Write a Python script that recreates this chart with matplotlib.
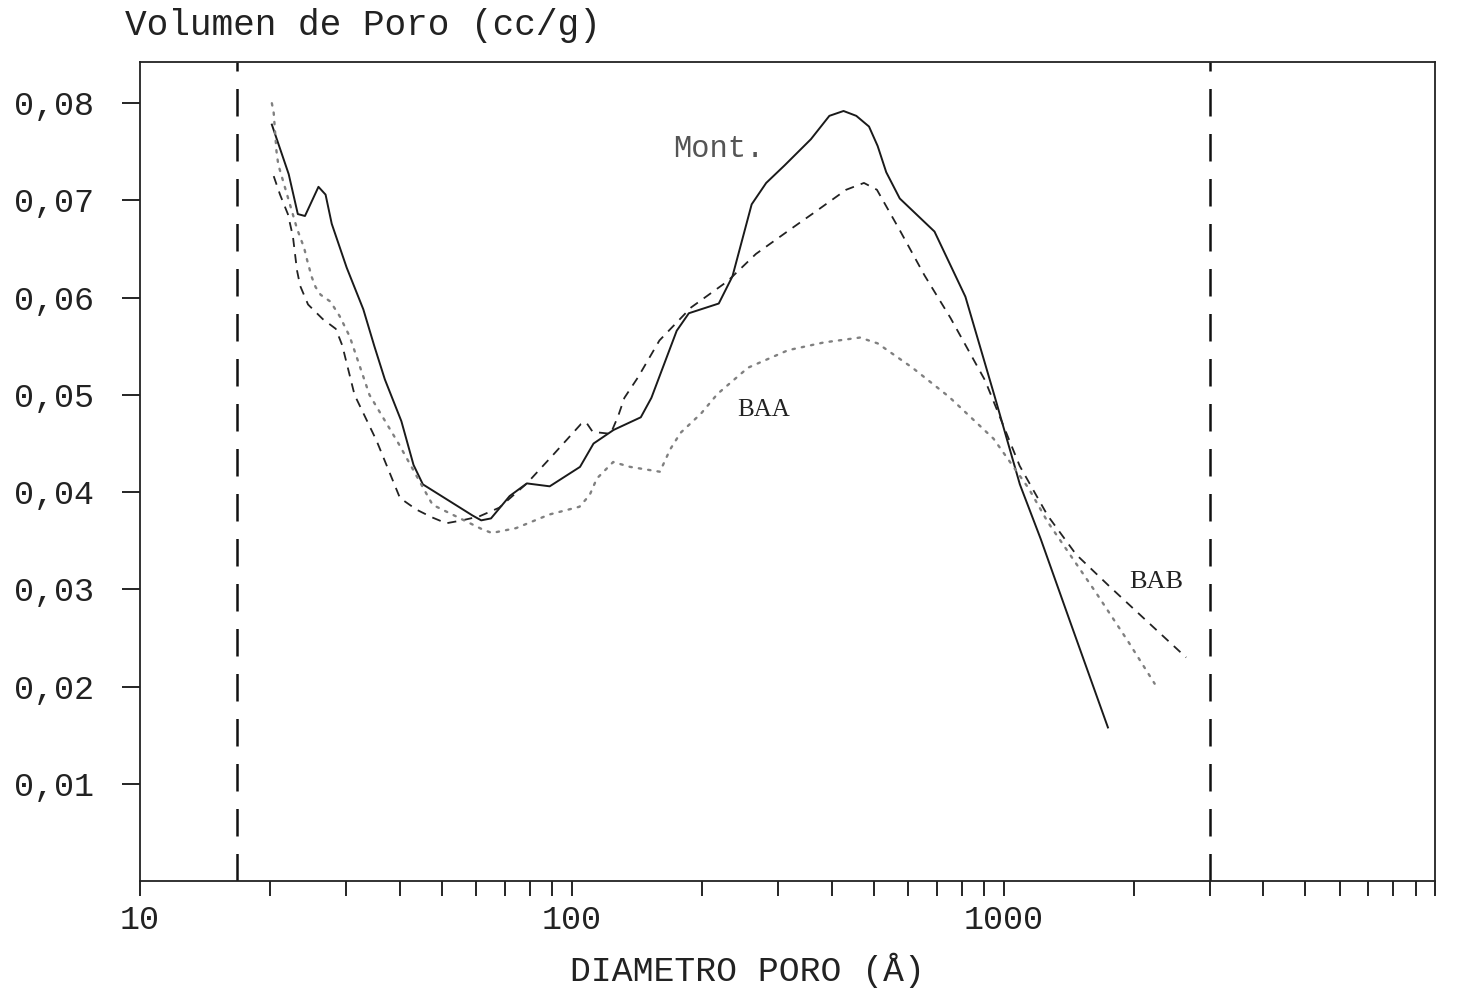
import numpy as np
import matplotlib
matplotlib.use("Agg")
import matplotlib.pyplot as plt
from matplotlib.ticker import FixedLocator, NullFormatter

# Pore diameter (A) and pore volume (cc/g)
mont_d = [20.2, 22.1, 23.2, 24.1, 25.9, 26.9, 27.8, 30.1, 32.9, 34.9, 36.9,
          40.3, 43.0, 45.2, 58.9, 61.7, 65.0, 71.8, 78.7, 88.9, 104.5, 112.3,
          125, 144.5, 152.9, 175, 186.7, 219, 235.6, 261, 282, 311, 358, 395,
          426, 456, 488, 511, 535, 575, 692, 816, 953, 1091, 1219, 1431, 1745]
mont_v = [0.0778, 0.0727, 0.0686, 0.0684, 0.0714, 0.0706, 0.0676, 0.0631,
          0.0588, 0.0550, 0.0516, 0.0473, 0.0428, 0.0408, 0.0376, 0.0371,
          0.0373, 0.0396, 0.0409, 0.0406, 0.0426, 0.0450, 0.0464, 0.0477,
          0.0497, 0.0566, 0.0584, 0.0594, 0.0622, 0.0696, 0.0718, 0.0736,
          0.0763, 0.0787, 0.0792, 0.0787, 0.0776, 0.0756, 0.0729, 0.0702,
          0.0668, 0.0601, 0.0499, 0.0408, 0.0352, 0.0265, 0.0158]

bab_d = [20.4, 21.1, 22.0, 22.6, 23.1, 23.5, 24.5, 26.5, 28.4, 29.4, 31.4,
         35.3, 40.0, 43.7, 47.5, 51.2, 55.7, 61.0, 67.9, 78.7, 90.8, 105,
         107.9, 111.8, 123, 128, 132.4, 142.3, 159.6, 189, 229.6, 267, 322.5,
         365.6, 432, 475, 509, 574, 656, 754, 906, 1090, 1265, 1472, 1770,
         2140, 2648]
bab_v = [0.0725, 0.0706, 0.0686, 0.0663, 0.0628, 0.0612, 0.0593, 0.0578,
         0.0568, 0.0551, 0.0500, 0.0453, 0.0394, 0.0382, 0.0374, 0.0368,
         0.0371, 0.0375, 0.0384, 0.0409, 0.0439, 0.0470, 0.0472, 0.0462,
         0.0460, 0.0478, 0.0497, 0.0518, 0.0556, 0.0590, 0.0617, 0.0645,
         0.0671, 0.0688, 0.0711, 0.0718, 0.0711, 0.0670, 0.0623, 0.0579,
         0.0515, 0.0427, 0.0376, 0.0336, 0.0302, 0.0268, 0.0230]

baa_d = [20.2, 20.4, 20.7, 20.9, 23.1, 24.0, 24.4, 25.0, 25.5, 26.2, 27.6,
         29.0, 30.6, 34.0, 39.7, 47.6, 61.9, 65.3, 74.3, 88.7, 104.2, 110,
         114.3, 124.7, 136.5, 160, 169, 178.6, 199.4, 217.5, 256, 317, 384,
         465, 511, 615, 748, 948, 1143, 1267, 1641, 1940, 2239]
baa_v = [0.0800, 0.0790, 0.0751, 0.0737, 0.0671, 0.0651, 0.0638, 0.0621,
         0.0611, 0.0603, 0.0596, 0.0581, 0.0560, 0.0500, 0.0450, 0.0387,
         0.0362, 0.0358, 0.0363, 0.0377, 0.0385, 0.0397, 0.0414, 0.0431,
         0.0426, 0.0421, 0.0444, 0.0461, 0.0481, 0.0501, 0.0528, 0.0546,
         0.0554, 0.0559, 0.0553, 0.0528, 0.0498, 0.0455, 0.0404, 0.0369,
         0.0296, 0.0247, 0.0203]

limits_d = [16.8, 3000]
y_ticks = [0.01, 0.02, 0.03, 0.04, 0.05, 0.06, 0.07, 0.08]
y_labels = ['0,01', '0,02', '0,03', '0,04', '0,05', '0,06', '0,07', '0,08']
x_major = [10, 100, 1000, 10000]
x_labels = ['10', '100', '1000', '']

mono = 'Liberation Mono'
serif = 'Liberation Serif'

fig = plt.figure(figsize=(14.57, 9.9), dpi=100)
ax = fig.add_axes([0.0961, 0.110, 0.889, 0.827])

ax.plot(mont_d, mont_v, color='#1a1a1a', lw=1.4)
ax.plot(bab_d, bab_v, color='#222222', lw=1.3, dashes=(5, 4))
ax.plot(baa_d, baa_v, color='#808080', lw=1.7, linestyle=(0, (1, 3)),
        dash_capstyle='round')

for d in limits_d:
    ax.axvline(d, color='#111111', lw=1.8, dashes=(11, 7))

ax.set_xscale('log')
ax.set_xlim(10, 10000)
ax.set_ylim(0, 0.0842)

ax.xaxis.set_major_locator(FixedLocator(x_major))
ax.set_xticklabels(x_labels)
minor = [m * 10 ** e for e in range(1, 4) for m in range(2, 10)]
ax.xaxis.set_minor_locator(FixedLocator(minor))
ax.xaxis.set_minor_formatter(NullFormatter())
ax.set_yticks(y_ticks)
ax.set_yticklabels(y_labels)

ax.tick_params(axis='x', which='both', direction='out', length=11, width=1.2,
               pad=6, labelsize=24, top=False)
ax.tick_params(axis='y', direction='out', length=13, width=1.2, pad=20,
               labelsize=24, right=False)
for lab in ax.get_xticklabels() + ax.get_yticklabels():
    lab.set_fontfamily(mono)
    lab.set_color('#222222')

for s in ax.spines.values():
    s.set_linewidth(1.3)
    s.set_color('#222222')

ax.text(172, 0.0753, 'Mont.', fontsize=22, family=mono, color='#555555',
        ha='left', va='center')
ax.text(242, 0.0485, 'BAA', fontsize=18, family=serif, color='#222222',
        ha='left', va='center')
ax.text(1960, 0.0308, 'BAB', fontsize=19, family=serif, color='#222222',
        ha='left', va='center')

fig.text(0.0858, 0.974, 'Volumen de Poro (cc/g)', fontsize=26, family=mono,
         color='#222222', ha='left', va='center')
fig.text(0.513, 0.020, 'DIAMETRO PORO (Å)', fontsize=25, family=mono,
         color='#222222', ha='center', va='center')

fig.savefig('out.png', dpi=100, facecolor='white')
